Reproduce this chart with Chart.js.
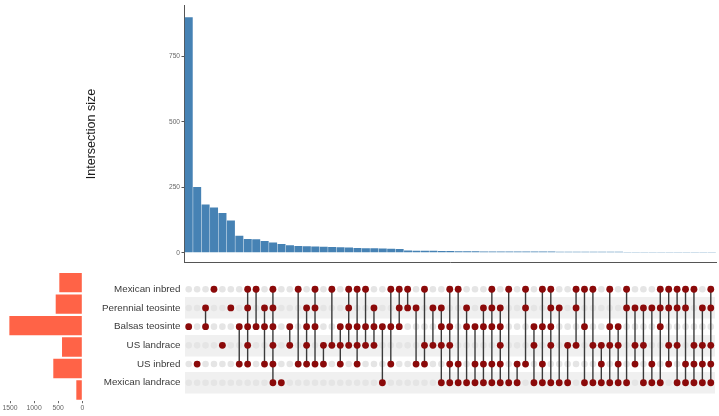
<!DOCTYPE html>
<html>
<head>
<meta charset="utf-8">
<script src="https://cdn.jsdelivr.net/npm/chart.js@4/dist/chart.umd.min.js"></script>
<style>
html, body { margin: 0; padding: 0; background: #fff; }
#wrap { position: relative; width: 719px; height: 416px; }
canvas { position: absolute; }
</style>
</head>
<body>
<div id="wrap">
  <canvas id="chartTop" width="719" height="268" style="left:0;top:0"></canvas>
  <canvas id="chartSets" width="90" height="146" style="left:0;top:270px"></canvas>
  <canvas id="chartMatrix" width="719" height="132" style="left:0;top:270px"></canvas>
</div>
<script>
// sets, top to bottom
const setNames = ["Mexican inbred", "Perennial teosinte", "Balsas teosinte", "US landrace", "US inbred", "Mexican landrace"];
const setSizes = [477, 552, 1514, 421, 602, 124];

// intersection sizes, sorted like the plot
const intersectionSizes = [
  900, 252, 185, 173, 152, 124, 65, 53, 52, 45, 40, 34, 29, 26, 25, 24,
  23, 22, 21, 20, 19, 18, 18, 17, 16, 15, 9, 8, 8, 8, 7, 7,
  6, 6, 6, 5, 5, 5, 5, 5, 5, 5, 5, 5, 4, 4, 4, 4,
  4, 4, 4, 4, 3, 3, 3, 3, 3, 3, 3, 3, 3, 3, 3
];

// which sets (1 = first row) are in each intersection
const intersectionSets = [
  [3], [5], [2, 3], [1], [4], [2], [3, 5], [1, 2, 3, 4, 5],
  [1, 3], [2, 3, 5], [1, 2, 3, 4, 5, 6], [6], [3, 4], [1, 5], [2, 3, 4, 5], [1, 2, 3, 5],
  [4, 5], [1, 4], [3, 4, 5], [1, 2, 3, 4], [1, 3, 4, 5], [1, 3, 4], [2, 3, 4], [3, 6],
  [1, 3, 5], [1, 2, 3], [1, 2], [2, 5], [1, 4, 5], [2, 4], [2, 3, 4, 6], [1, 3, 4, 5, 6],
  [1, 5, 6], [2, 3, 6], [3, 5, 6], [2, 3, 5, 6], [1, 2, 3, 5, 6], [2, 3, 4, 5, 6], [1, 6], [5, 6],
  [1, 2, 5], [3, 4, 6], [1, 3, 5, 6], [1, 2, 3, 4, 6], [2, 6], [4, 6], [1, 2, 4], [1, 3, 6],
  [1, 4, 6], [4, 5, 6], [1, 3, 4, 6], [3, 4, 5, 6], [1, 2, 6], [2, 4, 5], [2, 4, 6], [2, 5, 6],
  [1, 2, 3, 6], [1, 2, 4, 5], [1, 2, 4, 6], [1, 2, 5, 6], [1, 4, 5, 6], [2, 4, 5, 6], [1, 2, 4, 5, 6]
];

const sizeTicks = [0, 250, 500, 750];
const setSizeTicks = [0, 500, 1000, 1500];

Chart.defaults.font.family = "'Liberation Sans', Arial, sans-serif";

const cols = intersectionSizes.map((_, i) => i + 1);

// intersection size bars
new Chart(document.getElementById("chartTop"), {
  type: "bar",
  data: {
    labels: cols,
    datasets: [{
      data: intersectionSizes,
      backgroundColor: "#4682b4",
      categoryPercentage: 1,
      barPercentage: 0.95
    }]
  },
  options: {
    responsive: false,
    animation: false,
    layout: { padding: { left: 0, right: 3, top: 2, bottom: 2.3 } },
    plugins: { legend: { display: false }, tooltip: { enabled: false } },
    scales: {
      x: {
        ticks: { display: false },
        grid: { display: false, drawTicks: false },
        border: { display: true, color: "#555", width: 1 },
        afterFit: s => { s.height = 0; }
      },
      y: {
        min: -37,
        max: 945,
        afterBuildTicks: s => { s.ticks = sizeTicks.map(v => ({ value: v })); },
        ticks: { callback: v => String(v), font: { size: 6.6 }, color: "#666", padding: 1.5 },
        grid: { drawOnChartArea: false, tickLength: 3, color: "#555" },
        border: { color: "#555", width: 1 },
        title: {
          display: true,
          text: "Intersection size",
          font: { size: 12.5 },
          color: "#1a1a1a",
          padding: { top: 84.5, bottom: 0 }
        },
        afterFit: s => { s.width = 184.5; }
      }
    }
  }
});

// set size bars
new Chart(document.getElementById("chartSets"), {
  type: "bar",
  data: {
    labels: setNames,
    datasets: [{
      data: setSizes,
      backgroundColor: "#ff6347",
      categoryPercentage: 1,
      barPercentage: 0.9
    }]
  },
  options: {
    indexAxis: "y",
    responsive: false,
    animation: false,
    layout: { padding: { left: 5.7, right: 7.7, top: 1.9, bottom: 0 } },
    plugins: { legend: { display: false }, tooltip: { enabled: false } },
    scales: {
      y: { display: false },
      x: {
        reverse: true,
        min: 0,
        max: 1590,
        afterBuildTicks: s => { s.ticks = setSizeTicks.map(v => ({ value: v })); },
        ticks: { callback: v => String(v), font: { size: 6.8 }, color: "#666", padding: 1, maxRotation: 0, autoSkip: false },
        grid: { drawOnChartArea: false, tickLength: 2.5, color: "#666" },
        border: { display: false },
        afterFit: s => { s.height = 15.3; }
      }
    }
  }
});

// matrix of dots
const dotsAll = [], dotsOn = [], links = [];
intersectionSets.forEach((rows, i) => {
  const x = i + 1;
  setNames.forEach((_, r) => dotsAll.push({ x, y: r + 1 }));
  rows.forEach(r => dotsOn.push({ x, y: r }));
  if (rows.length > 1) {
    links.push({ x, y: Math.min(...rows) }, { x, y: Math.max(...rows) }, { x, y: null });
  }
});

new Chart(document.getElementById("chartMatrix"), {
  type: "scatter",
  data: {
    datasets: [
      { data: dotsOn, order: 0, pointRadius: 3.4, pointBackgroundColor: "#8b0a0a", pointBorderWidth: 0 },
      { data: links, order: 1, showLine: true, spanGaps: false, pointRadius: 0, borderColor: "#3a3a3a", borderWidth: 1.4 },
      { data: dotsAll, order: 2, pointRadius: 3.3, pointBackgroundColor: "#e5e5e5", pointBorderWidth: 0 }
    ]
  },
  options: {
    responsive: false,
    animation: false,
    layout: { padding: { left: 0, right: 3, top: 1.9, bottom: 1.3 } },
    plugins: { legend: { display: false }, tooltip: { enabled: false } },
    scales: {
      x: { display: false, min: 0.5, max: 63.5 },
      y: {
        min: 0.5,
        max: 6.5,
        reverse: true,
        afterBuildTicks: s => { s.ticks = setNames.map((_, i) => ({ value: i + 1 })); },
        ticks: { callback: v => setNames[v - 1], font: { size: 9.8 }, color: "#3a3a3a", padding: 4 },
        grid: {
          drawTicks: false,
          lineWidth: 21.5,
          color: c => (c.tick && c.tick.value % 2 === 0) ? "#f0f0f0" : "rgba(0,0,0,0)"
        },
        border: { display: false },
        afterFit: s => { s.width = 184.5; }
      }
    }
  }
});
</script>
</body>
</html>
